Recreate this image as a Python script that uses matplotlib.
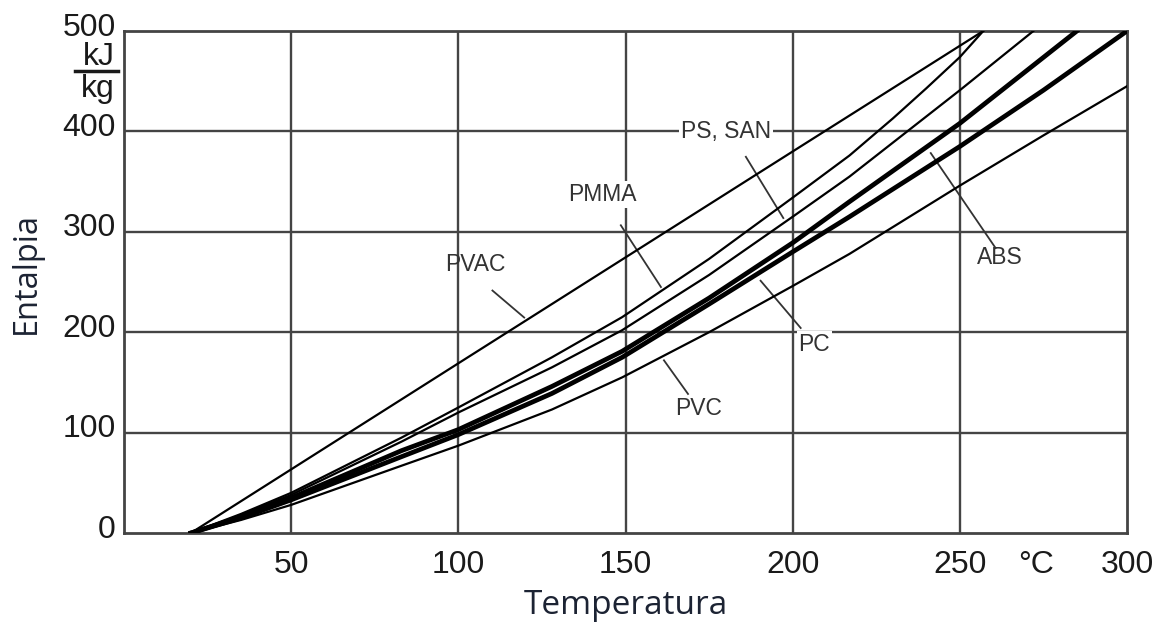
import matplotlib.pyplot as plt
from matplotlib.lines import Line2D
from matplotlib.transforms import ScaledTranslation

# Enthalpy curves (temperature in degC, enthalpy in kJ/kg)
pvac_t = [20, 100, 200, 257]
pvac_h = [0, 169, 380, 500]

pmma_t = [20, 35, 50, 83, 100, 128, 149, 175, 200, 217, 230, 240, 250, 257]
pmma_h = [0, 19, 40, 95, 125, 175, 215, 273, 334, 376, 413, 443, 474, 500]

ps_t = [20, 35, 50, 83, 100, 128, 149, 175, 200, 217, 250, 272]
ps_h = [0, 18, 38, 91, 120, 165, 202, 257, 315, 355, 441, 500]

abs_t = [20, 35, 50, 83, 100, 128, 149, 175, 200, 217, 250, 285]
abs_h = [0, 16, 35, 82, 103, 146, 181, 234, 289, 330, 408, 500]

pc_t = [20, 35, 50, 83, 100, 128, 149, 175, 200, 217, 250, 275, 300]
pc_h = [0, 15, 33, 76, 98, 139, 175, 228, 280, 315, 385, 441, 500]

pvc_t = [20, 35, 50, 83, 100, 128, 149, 175, 200, 217, 250, 275, 300]
pvc_h = [0, 13, 28, 67, 87, 123, 155, 200, 246, 278, 346, 396, 445]

# label text, text position, leader line (start, end)
labels = ["PVAC", "PMMA", "PS, SAN", "PC", "PVC", "ABS"]
label_xy = [(105, 267), (143, 337), (180, 400), (206.5, 188), (172, 124), (262, 274)]
leader_from = [(110.2, 241.5), (148.6, 306.5), (186, 374.7), (190.4, 251.3), (161.5, 172), (241.3, 378.4)]
leader_to = [(119.7, 214.6), (160.6, 245), (197.2, 313.7), (202.4, 204.2), (168.7, 138.5), (260.7, 283.8)]
boxed = ["PMMA", "PS, SAN", "PC"]

x_ticks = [50, 100, 150, 200, 250, 300]
y_ticks = [0, 100, 200, 300, 400, 500]

fig = plt.figure(figsize=(11.62, 6.24), dpi=100)
ax = fig.add_axes([124 / 1162, 1 - 533 / 624, 1003 / 1162, 502 / 624])

grid_col = "#444444"
for v in x_ticks[:-1]:
    ax.axvline(v, color=grid_col, lw=1.7, zorder=1)
for v in y_ticks[1:-1]:
    ax.axhline(v, color=grid_col, lw=1.7, zorder=1)

thin = 1.6
thick = 3.4
ax.plot(pvac_t, pvac_h, color="black", lw=thin, zorder=3)
ax.plot(pmma_t, pmma_h, color="black", lw=thin, zorder=3)
ax.plot(ps_t, ps_h, color="black", lw=thin, zorder=3)
ax.plot(abs_t, abs_h, color="black", lw=thick, zorder=3)
ax.plot(pc_t, pc_h, color="black", lw=thick, zorder=3)
ax.plot(pvc_t, pvc_h, color="black", lw=thin, zorder=3)

for name, (tx, ty), p0, p1 in zip(labels, label_xy, leader_from, leader_to):
    ax.plot([p0[0], p1[0]], [p0[1], p1[1]], color="#333333", lw=1.3, zorder=2)
    bbox = None
    if name in boxed:
        bbox = dict(facecolor="white", edgecolor="none", pad=1.5)
    ax.text(tx, ty, name, ha="center", va="center", fontsize=16.5,
            family="Liberation Sans", color="#333333", bbox=bbox, zorder=4)

ax.set_xlim(0, 300)
ax.set_ylim(0, 500)
ax.set_xticks(x_ticks)
ax.set_yticks(y_ticks)
ax.tick_params(length=0, labelsize=23, colors="#1a1a1a")
ax.tick_params(axis="x", pad=12)
ax.tick_params(axis="y", pad=6)
for lab in ax.get_xticklabels() + ax.get_yticklabels():
    lab.set_family("Liberation Sans")
for lab in ax.get_yticklabels():
    lab.set_transform(lab.get_transform() + ScaledTranslation(0, 7 / 100, fig.dpi_scale_trans))

for s in ax.spines.values():
    s.set_color(grid_col)
    s.set_linewidth(2)

# unit: kJ / kg fraction at the top of the y axis
fig.text(115 / 1162, 1 - 65 / 624, "kJ", ha="right", va="baseline", fontsize=23,
         family="Liberation Sans", color="#1a1a1a")
fig.text(115 / 1162, 1 - 97 / 624, "kg", ha="right", va="baseline", fontsize=23,
         family="Liberation Sans", color="#1a1a1a")
fig.add_artist(Line2D([75 / 1162, 118 / 1162], [1 - 71 / 624, 1 - 71 / 624],
                      color="#1a1a1a", lw=2.5))
fig.text(1036 / 1162, 1 - 565 / 624, "°C", ha="center", va="center", fontsize=23,
         family="Liberation Sans", color="#1a1a1a")

ax.set_xlabel("Temperatura", fontsize=24, family="Open Sans", color="#1c2333")
ax.xaxis.set_label_coords(0.5, -0.145)
ax.xaxis.label.set_verticalalignment("center")
ax.set_ylabel("Entalpia", fontsize=23.5, family="Open Sans", color="#1c2333")
ax.yaxis.set_label_coords(-0.097, 0.518)
ax.yaxis.label.set_verticalalignment("center")

fig.savefig("out.png", dpi=100)
